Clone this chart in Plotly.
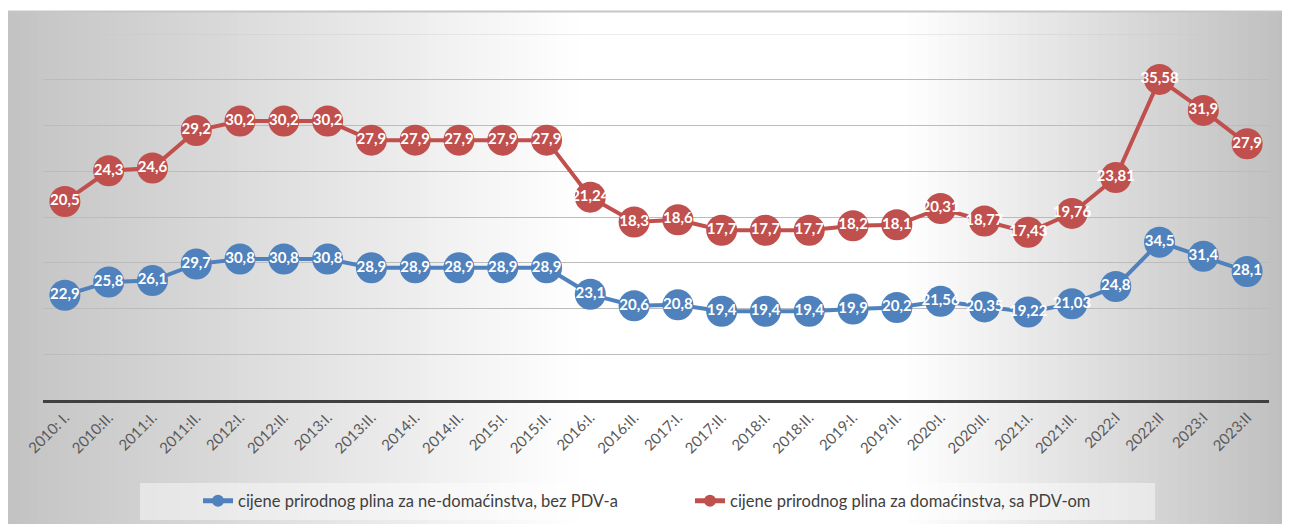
import plotly.graph_objects as go

categories = ["2010: I.", "2010:II.", "2011:I.", "2011:II.", "2012:I.", "2012:II.",
              "2013:I.", "2013:II.", "2014:I.", "2014:II.", "2015:I.", "2015:II.",
              "2016:I.", "2016:II.", "2017:I.", "2017:II.", "2018:I.", "2018:II.",
              "2019:I.", "2019:II.", "2020:I.", "2020:II.", "2021:I.", "2021:II.",
              "2022:I", "2022:II", "2023:I", "2023:II"]

non_household = [22.9, 25.8, 26.1, 29.7, 30.8, 30.8, 30.8, 28.9, 28.9, 28.9, 28.9, 28.9,
                 23.1, 20.6, 20.8, 19.4, 19.4, 19.4, 19.9, 20.2, 21.56, 20.35, 19.22, 21.03,
                 24.8, 34.5, 31.4, 28.1]
household = [20.5, 24.3, 24.6, 29.2, 30.2, 30.2, 30.2, 27.9, 27.9, 27.9, 27.9, 27.9,
             21.24, 18.3, 18.6, 17.7, 17.7, 17.7, 18.2, 18.1, 20.31, 18.77, 17.43, 19.76,
             23.81, 35.58, 31.9, 27.9]

grid_values = [10, 20, 30, 40, 50, 60, 70]
y_max = 80

name_blue = "cijene prirodnog plina za ne-domaćinstva, bez PDV-a"
name_red = "cijene prirodnog plina za domaćinstva, sa PDV-om"

OFF = 8  # page body margin
W, H = 1290 - OFF, 524 - OFF
# plot area in page pixels: x 43..1269, y 34..400
L, T = 43 - OFF, 34 - OFF
R = W - (1269 - OFF)
B = H - (400 - OFF)
PW, PH = W - L - R, H - T - B


def px_x(x):  # page px -> paper
    return (x - OFF - L) / PW


def px_y(y):
    return (H - B - (y - OFF)) / PH


def fmt(v):
    return str(v).replace(".", ",")


fig = go.Figure()
for vals, name, col in [(non_household, name_blue, "#4F81BD"), (household, name_red, "#C0504D")]:
    fig.add_trace(go.Scatter(
        x=categories, y=vals, name=name, stackgroup="one", fill="none",
        mode="lines+markers+text",
        line=dict(color=col, width=4),
        marker=dict(color=col, size=31),
        text=[fmt(v) for v in vals], textposition="middle center",
        textfont=dict(family="Lato", size=15, color="white", weight="bold"),
        hoverinfo="skip",
    ))

# background gradient
stops = [(0.0, 194), (0.45, 255), (0.70, 255), (1.0, 190)]


def gray(t):
    for (t0, g0), (t1, g1) in zip(stops[:-1], stops[1:]):
        if t0 <= t <= t1:
            return round(g0 + (g1 - g0) * (t - t0) / (t1 - t0))
    return stops[-1][1]


shapes = []
x0 = 8
step = 10
while x0 < 1290:
    x1 = min(x0 + step, 1290)
    g = gray((x0 + x1) / 2 / 1290)
    shapes.append(dict(type="rect", xref="paper", yref="paper", layer="below",
                       x0=px_x(x0), x1=px_x(x1 + 1), y0=px_y(524), y1=px_y(11),
                       fillcolor=f"rgb({g},{g},{g})", line=dict(width=0)))
    x0 = x1
shapes.append(dict(type="line", xref="paper", yref="paper", layer="below",
                   x0=px_x(8), x1=px_x(1290), y0=px_y(11.5), y1=px_y(11.5),
                   line=dict(color="#c6c6c6", width=2)))
# faint top gridline
shapes.append(dict(type="line", xref="paper", yref="y", layer="below",
                   x0=0, x1=1, y0=y_max, y1=y_max,
                   line=dict(color="rgba(200,200,200,0.45)", width=1.5)))
# legend box
shapes.append(dict(type="rect", xref="paper", yref="paper", layer="below",
                   x0=px_x(140), x1=px_x(1155), y0=px_y(520), y1=px_y(483),
                   fillcolor="rgba(255,255,255,0.45)", line=dict(width=0)))

fig.update_layout(
    width=W, height=H,
    margin=dict(l=L, r=R, t=T, b=B, pad=0),
    paper_bgcolor="white", plot_bgcolor="rgba(0,0,0,0)",
    shapes=shapes,
    showlegend=True,
    legend=dict(orientation="h", xref="container", yref="container",
                x=(198 - OFF) / W, xanchor="left", y=(524 - 501) / H, yanchor="middle",
                bgcolor="rgba(0,0,0,0)", itemsizing="constant",
                entrywidth=447, entrywidthmode="pixels",
                font=dict(family="Lato", size=16.5, color="#404040")),
    xaxis=dict(type="category", range=[-0.5, len(categories) - 0.5],
               showgrid=False, showline=True, linecolor="#404040", linewidth=3,
               ticks="", tickangle=-45, automargin=False,
               tickfont=dict(family="Lato", size=15, color="#595959")),
    yaxis=dict(range=[0, y_max], tickvals=grid_values, showticklabels=False, showgrid=True,
               gridcolor="#bcbcbc", gridwidth=1, zeroline=False, showline=False, ticks=""),
)

fig.write_html("out.html")
